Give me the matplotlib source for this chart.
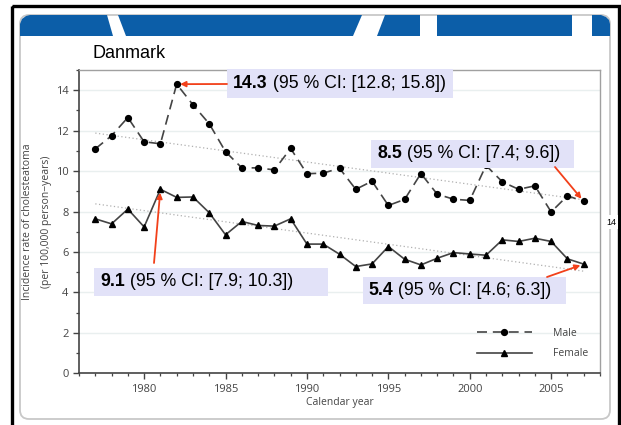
import matplotlib
matplotlib.use("Agg")
import matplotlib.pyplot as plt
from matplotlib.patches import Rectangle, Polygon, FancyBboxPatch
from matplotlib.ticker import MultipleLocator

# incidence per 100 000 person-years
years = list(range(1977, 2008))
male = [11.1, 11.75, 12.65, 11.45, 11.35, 14.3, 13.28, 12.34, 10.96, 10.16,
        10.16, 10.06, 11.12, 9.87, 9.9, 10.14, 9.1, 9.5, 8.3, 8.6,
        9.88, 8.86, 8.61, 8.55, 10.28, 9.47, 9.1, 9.27, 7.98, 8.78, 8.5]
female = [7.64, 7.39, 8.12, 7.24, 9.1, 8.7, 8.72, 7.94, 6.85, 7.51,
          7.31, 7.28, 7.64, 6.39, 6.39, 5.89, 5.28, 5.41, 6.27, 5.64,
          5.36, 5.69, 5.97, 5.9, 5.84, 6.6, 6.52, 6.68, 6.52, 5.66, 5.4]

# linear trends (end points)
trend_years = [1977, 2007]
male_trend = [11.88, 8.58]
female_trend = [8.38, 5.05]

# callouts: bold value, rest of label, series, year
note_bold = ["14.3", "8.5", "9.1", "5.4"]
note_rest = [" (95 % CI: [12.8; 15.8])", " (95 % CI: [7.4; 9.6])",
             " (95 % CI: [7.9; 10.3])", " (95 % CI: [4.6; 6.3])"]
note_series = ["male", "male", "female", "female"]
note_year = [1982, 2007, 1981, 2007]

# layout of callouts in figure pixels (x0, y0, x1, y1), text start, arrow start
note_box = [(227, 69, 453, 98), (371, 140, 574, 168), (94, 268, 328, 296), (363, 277, 566, 304)]
note_text_x = [233, 377, 100, 368]
note_arrow_from = [(227, 84), (555, 167), (154, 263), (547, 277)]

W, H = 621, 425
fig = plt.figure(figsize=(W / 100, H / 100), dpi=100)
fig.patch.set_facecolor("white")

# background layer in pixel coordinates
bg = fig.add_axes([0, 0, 1, 1])
bg.set_xlim(0, W)
bg.set_ylim(H, 0)
bg.axis("off")

bg.add_patch(FancyBboxPatch((20, 15), 590, 404, boxstyle="round,pad=0,rounding_size=9",
                            fc="white", ec="#c8c8c8", lw=1.3))
blue = "#0c5ea8"
segs = [
    [(20, 36), (20, 24), (22, 19), (26, 16), (30, 15), (107, 15), (113, 36)],
    [(118, 15), (362, 15), (353, 36), (126, 36)],
    [(385, 15), (420, 15), (420, 36), (377, 36)],
    [(437, 15), (572, 15), (572, 36), (437, 36)],
    [(592, 15), (601, 15), (606, 17), (609, 20), (610, 24), (610, 36), (592, 36)],
]
for s in segs:
    bg.add_patch(Polygon(s, closed=True, fc=blue, ec="none"))
bg.add_patch(Rectangle((11.5, 6), 607.5, 430, fc="none", ec="black", lw=2.4))

bg.text(92, 53, "Danmark", fontsize=13, family="Liberation Sans", va="center", ha="left")
bg.text(611, 222, "14", fontsize=6.5, family="Liberation Sans", va="center", ha="center",
        bbox=dict(fc="white", ec="none", pad=1.5))

# main chart
ax = fig.add_axes([79 / W, 1 - 373.3 / H, (600 - 79) / W, (373.3 - 70) / H])
ax.set_facecolor("white")
ax.set_xlim(1976, 2008)
ax.set_ylim(0, 15)

ax.grid(axis="y", color="#e9efef", lw=1)
ax.set_axisbelow(True)
ax.yaxis.set_major_locator(MultipleLocator(2))
ax.yaxis.set_minor_locator(MultipleLocator(1))
ax.xaxis.set_major_locator(MultipleLocator(5))
ax.xaxis.set_minor_locator(MultipleLocator(1))
ax.tick_params(which="major", direction="out", length=4, width=1, color="#444",
               labelsize=8, labelcolor="#444")
ax.tick_params(which="minor", direction="out", length=2.5, width=0.9, color="#444")
for lab in ax.get_xticklabels() + ax.get_yticklabels():
    lab.set_family("Open Sans")
ax.set_yticks([0, 2, 4, 6, 8, 10, 12, 14])

for side in ["left", "bottom"]:
    ax.spines[side].set_color("#444")
    ax.spines[side].set_linewidth(1.2)
for side in ["top", "right"]:
    ax.spines[side].set_color("#a0a0a0")
    ax.spines[side].set_linewidth(1.0)

ax.plot(trend_years, male_trend, ls=(0, (1, 2)), color="#b0b0b0", lw=0.9)
ax.plot(trend_years, female_trend, ls=(0, (1, 2)), color="#b0b0b0", lw=0.9)
ax.plot(years, male, ls=(0, (6, 3.5)), color="#444", lw=1.2, marker="o", ms=4.2,
        mfc="black", mec="black", label="Male")
ax.plot(years, female, ls="-", color="#444", lw=1.2, marker="^", ms=4.5,
        mfc="black", mec="black", label="Female")

ax.set_xlabel("Calendar year", fontsize=7.5, color="#444", family="Open Sans", labelpad=2)
ax.set_ylabel("Incidence rate of cholesteatoma\n(per 100,000 person\u2212years)",
              fontsize=7.5, color="#444", family="Open Sans", labelpad=3, linespacing=1.9)

leg = ax.legend(loc="lower right", bbox_to_anchor=(0.995, 0.015), frameon=False,
                handlelength=5.3, handletextpad=2.0, labelspacing=0.9, numpoints=1,
                prop={"family": "Open Sans", "size": 7.5})
for t in leg.get_texts():
    t.set_color("#444")

red = "#f2401a"
series = {"male": male, "female": female}
for i in range(len(note_bold)):
    x0, y0, x1, y1 = note_box[i]
    ax.add_patch(Rectangle((x0, y0), x1 - x0, y1 - y0, transform=bg.transData,
                           fc="#e2e2f8", ec="none", clip_on=False, zorder=5))
    bt = ax.text(note_text_x[i], (y0 + y1) / 2, note_bold[i], transform=bg.transData,
                 fontsize=12.8, fontweight="bold", family="Liberation Sans",
                 va="center", ha="left", zorder=6)
    ax.annotate(note_rest[i], xy=(1, 0), xycoords=bt, va="bottom", ha="left",
                fontsize=12.8, family="Liberation Sans", zorder=6)
    yr = note_year[i]
    val = series[note_series[i]][years.index(yr)]
    ax.annotate("", xy=(yr, val), xycoords="data", xytext=note_arrow_from[i],
                textcoords=bg.transData, annotation_clip=False, zorder=7,
                arrowprops=dict(arrowstyle="-|>", color=red, lw=1.3, shrinkA=0,
                                shrinkB=2.5, mutation_scale=8))

fig.savefig("out.png", dpi=100)
